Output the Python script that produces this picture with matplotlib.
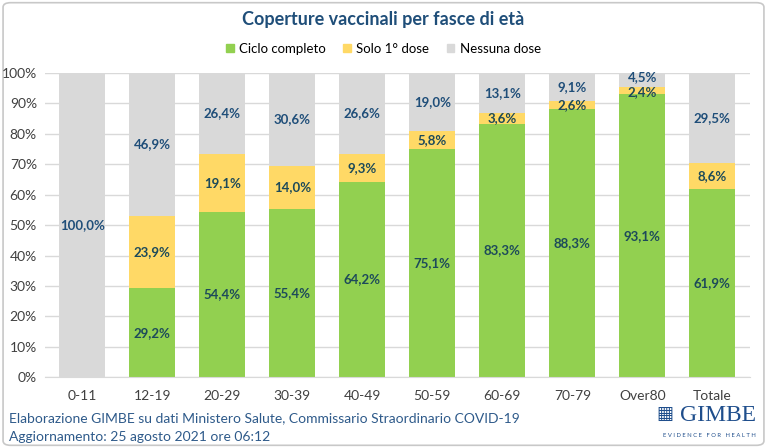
import numpy as np
import matplotlib.pyplot as plt
from matplotlib.patches import FancyBboxPatch, Patch

plt.rcParams['font.family'] = ['Lato', 'DejaVu Sans']

categories = ['0-11', '12-19', '20-29', '30-39', '40-49', '50-59', '60-69', '70-79', 'Over80', 'Totale']
ciclo = [0.0, 29.2, 54.4, 55.4, 64.2, 75.1, 83.3, 88.3, 93.1, 61.9]
prima = [0.0, 23.9, 19.1, 14.0, 9.3, 5.8, 3.6, 2.6, 2.4, 8.6]
nessuna = [100.0, 46.9, 26.4, 30.6, 26.6, 19.0, 13.1, 9.1, 4.5, 29.5]

green = '#92d050'
yellow = '#ffd966'
grey = '#d9d9d9'
blue = '#1f4e79'
dark = '#1d4a5a'

fig = plt.figure(figsize=(7.67, 4.48), dpi=100)
frame = FancyBboxPatch((0.004, 0.006), 0.992, 0.988, boxstyle='round,pad=0,rounding_size=0.01',
                       transform=fig.transFigure, fc='none', ec='#c8c8c8', lw=1.2, zorder=-5)
fig.patches.append(frame)
ax = fig.add_axes([0.059, 0.158, 0.919, 0.679])

x = np.arange(len(categories))
ciclo = np.array(ciclo)
prima = np.array(prima)
nessuna = np.array(nessuna)
w = 0.66
ax.bar(x, ciclo, w, color=green, zorder=2)
ax.bar(x, prima, w, bottom=ciclo, color=yellow, zorder=2)
ax.bar(x, nessuna, w, bottom=ciclo + prima, color=grey, zorder=2)

def fmt(v):
    return f'{v:.1f}%'.replace('.', ',')

for i in range(len(x)):
    if ciclo[i] > 0:
        ax.text(x[i], ciclo[i] / 2, fmt(ciclo[i]), ha='center', va='center', color=dark,
                fontsize=9.5, fontweight='bold', zorder=3)
    if prima[i] > 0:
        yp = ciclo[i] + prima[i] / 2
        if prima[i] < 3 and nessuna[i] < 6:
            yp = ciclo[i] + 0.6
        ax.text(x[i], yp, fmt(prima[i]), ha='center', va='center', color=dark,
                fontsize=9.5, fontweight='bold', zorder=3)
    yn = ciclo[i] + prima[i] + nessuna[i] / 2
    if nessuna[i] < 6:
        yn = 98.6
    ax.text(x[i], yn, fmt(nessuna[i]), ha='center', va='center', color=blue,
            fontsize=9.5, fontweight='bold', zorder=3)

ax.set_xlim(-0.53, 9.54)
ax.set_ylim(0, 100)
ax.set_yticks(np.arange(0, 101, 10))
ax.set_yticklabels([f'{v}%' for v in range(0, 101, 10)])
ax.set_xticks(x)
ax.set_xticklabels(categories)
ax.tick_params(axis='both', length=0, labelsize=10, colors='#404040')
ax.tick_params(axis='x', pad=9)
ax.tick_params(axis='y', pad=6)
ax.grid(axis='y', color='#d9d9d9', lw=1, zorder=0)
for s in ['left', 'right', 'top']:
    ax.spines[s].set_visible(False)
ax.spines['bottom'].set_color('#d9d9d9')

fig.text(0.5, 0.957, 'Coperture vaccinali per fasce di età', ha='center', va='center',
         fontsize=13, fontweight='bold', color=blue)
handles = [Patch(color=green), Patch(color=yellow), Patch(color=grey)]
fig.legend(handles, ['Ciclo completo', 'Solo 1° dose', 'Nessuna dose'], loc='center',
           bbox_to_anchor=(0.5, 0.891), ncol=3, frameon=False, fontsize=9.5,
           handlelength=0.6, handleheight=0.6, handletextpad=0.4, columnspacing=1.3)

fig.text(0.012, 0.067, 'Elaborazione GIMBE su dati Ministero Salute, Commissario Straordinario COVID-19',
         fontsize=10, color='#2e5a8a', va='center')
fig.text(0.012, 0.025, 'Aggiornamento: 25 agosto 2021 ore 06:12', fontsize=10, color='#2e5a8a', va='center')
fig.text(0.986, 0.073, 'GIMBE', ha='right', va='center', fontsize=17, color='#1f4e8c',
         family=['Liberation Serif', 'DejaVu Serif'])
fig.text(0.878, 0.075, '\u25a6', ha='right', va='center', fontsize=13, color='#1f4e8c',
         family=['DejaVu Sans'])
fig.text(0.986, 0.029, 'E V I D E N C E   F O R   H E A L T H', ha='right', va='center',
         fontsize=4.2, color='#1f4e8c')

fig.savefig('out.png', dpi=100)
